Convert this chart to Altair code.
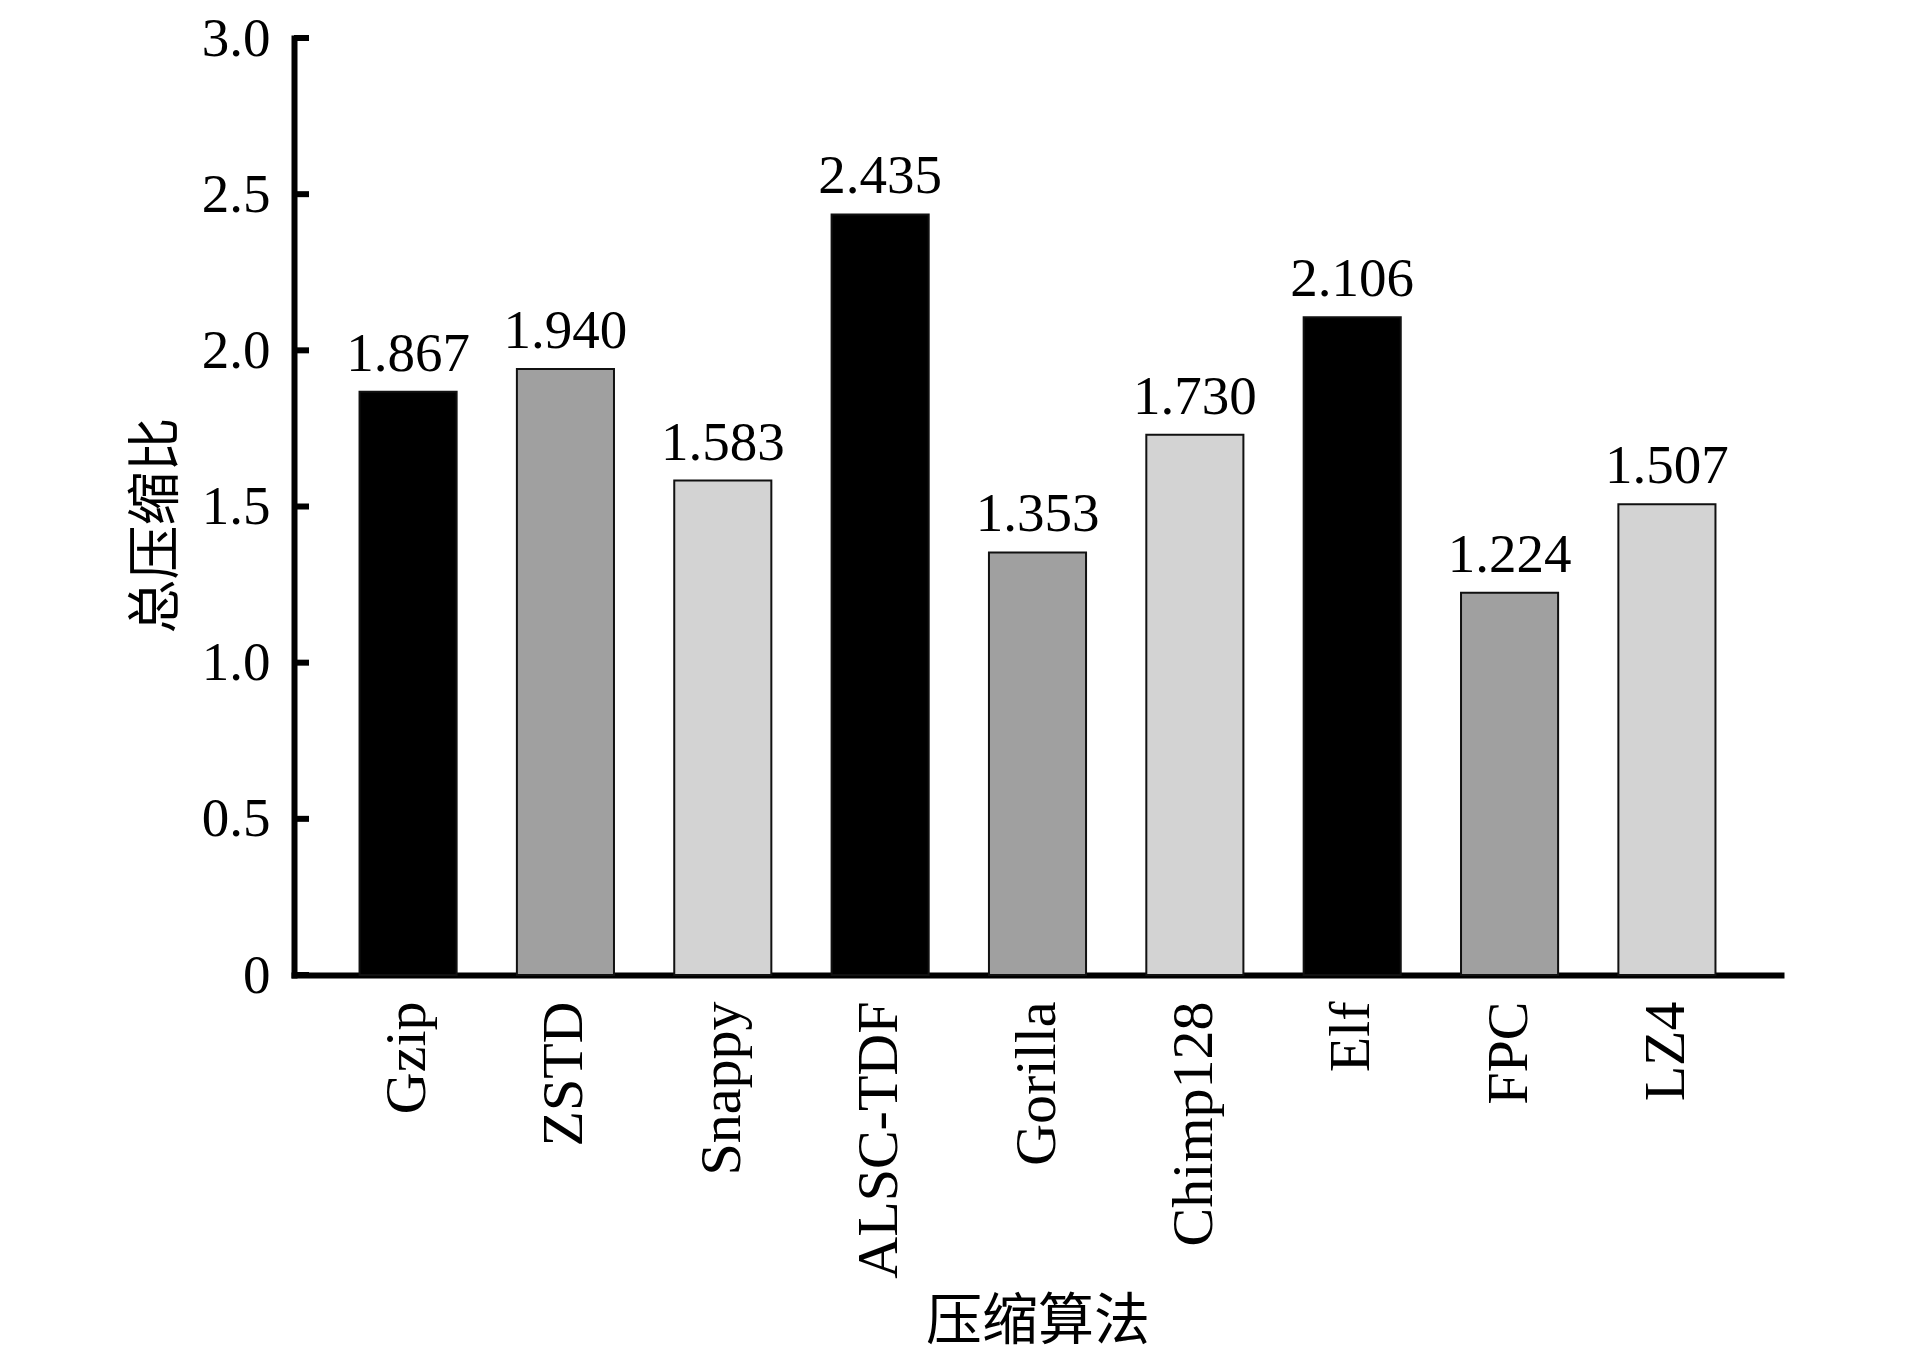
import altair as alt
import pandas as pd

algorithms = ["Gzip", "ZSTD", "Snappy", "ALSC-TDF", "Gorilla", "Chimp128", "Elf", "FPC", "LZ4"]
ratios = [1.867, 1.940, 1.583, 2.435, 1.353, 1.730, 2.106, 1.224, 1.507]
shades = ["black", "gray", "light", "black", "gray", "light", "black", "gray", "light"]
shade_colors = ["#000000", "#a0a0a0", "#d3d3d3"]
ytick_values = [0, 0.5, 1.0, 1.5, 2.0, 2.5, 3.0]

df = pd.DataFrame({
    "algo": algorithms,
    "ratio": ratios,
    "shade": shades,
    "label": [f"{v:.3f}" for v in ratios],
})
ticks_df = pd.DataFrame({"t": ytick_values})

LATIN = "Liberation Serif"
CJK = "Noto Sans CJK SC"

x_enc = alt.X(
    "algo:N",
    sort=algorithms,
    scale=alt.Scale(paddingInner=0.383, paddingOuter=0.4165),
    axis=alt.Axis(
        title="压缩算法",
        labelAngle=-90,
        labelAlign="right",
        labelBaseline="middle",
        labelPadding=26,
        labelFont=LATIN,
        labelFontSize=58,
        labelColor="black",
        labelLimit=0,
        ticks=False,
        titleFont=CJK,
        titleFontSize=56,
        titleFontWeight="normal",
        titleColor="black",
        titleLimit=0,
        titleY=346,
        titleBaseline="middle",
        domainCap="square",
    ),
)

y_enc = alt.Y(
    "ratio:Q",
    scale=alt.Scale(domain=[0, 3], nice=False),
    axis=alt.Axis(
        title="总压缩比",
        values=ytick_values,
        labelExpr="datum.value == 0 ? '0' : format(datum.value, '.1f')",
        ticks=False,
        grid=False,
        labelPadding=24,
        labelFont=LATIN,
        labelFontSize=55,
        labelColor="black",
        labelLimit=0,
        titleFont=CJK,
        titleFontSize=54,
        titleFontWeight="normal",
        titleColor="black",
        titleLimit=0,
        titleX=-137,
        titleY=487,
        titleAlign="center",
        titleBaseline="middle",
        domainCap="square",
    ),
)

bars = alt.Chart(df).mark_bar(stroke="#111111", strokeWidth=2).encode(
    x=x_enc,
    y=y_enc,
    color=alt.Color(
        "shade:N",
        scale=alt.Scale(domain=["black", "gray", "light"], range=shade_colors),
        legend=None,
    ),
)

labels = alt.Chart(df).mark_text(
    dy=-21, baseline="alphabetic", align="center", font=LATIN, fontSize=55, color="black"
).encode(
    x=alt.X("algo:N", sort=algorithms),
    y=alt.Y("ratio:Q"),
    text="label:N",
)

ticks = alt.Chart(ticks_df).mark_rule(strokeWidth=6, color="black").encode(
    y=alt.Y("t:Q"),
    x=alt.value(0),
    x2=alt.value(15),
)

chart = alt.layer(bars, labels, ticks).properties(
    width=1487,
    height=937,
    autosize=alt.AutoSizeParams(type="none"),
    padding={"left": 286, "top": 30, "right": 100, "bottom": 382},
).configure_view(stroke=None).configure_axis(
    domainColor="black", domainWidth=6
)

chart.save("out.html", embed_options={"renderer": "svg", "actions": False})
